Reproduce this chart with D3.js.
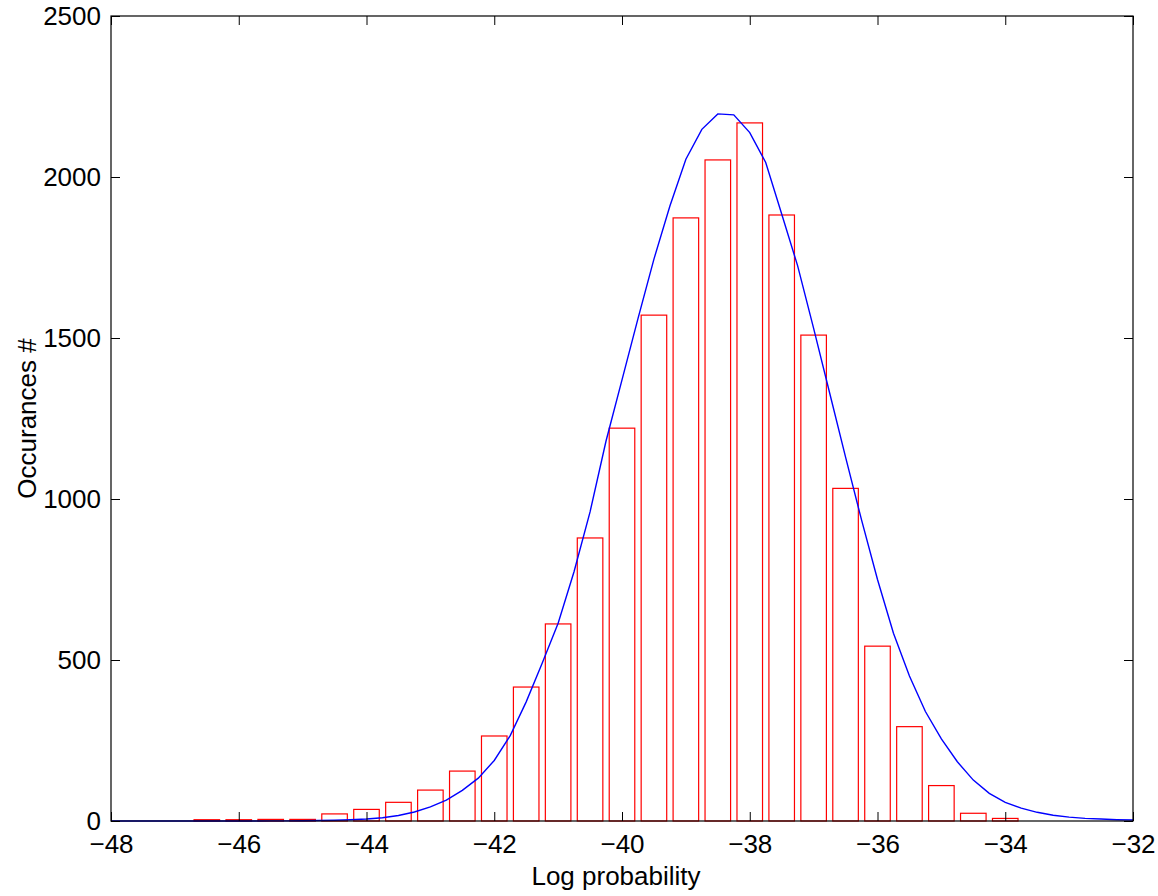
<!DOCTYPE html>
<html lang="en">
    <head>
        <meta charset="UTF-8">
        <title>Log probability histogram</title>
        <script src="https://d3js.org/d3.v7.min.js"></script>
    </head>
    <style>
        body { margin: 0; background: white; }
        text { font-family: "Liberation Sans", Arial, sans-serif; font-size: 26px; fill: black; }
        .bar { fill: white; stroke: #ff0000; stroke-width: 1.2px; }
        .fit { fill: none; stroke: #0000ff; stroke-width: 1.4px; }
        .frame { fill: none; stroke: black; stroke-width: 1.2px; }
    </style>
    <body>
        <svg id="chart" width="1158" height="896"></svg>
        <script>
            // histogram bins (centre of bin) and counts
            const binCentres = [-46.5, -46, -45.5, -45, -44.5, -44, -43.5, -43, -42.5, -42,
                -41.5, -41, -40.5, -40, -39.5, -39, -38.5, -38, -37.5, -37,
                -36.5, -36, -35.5, -35, -34.5, -34];
            const counts = [4, 4, 5, 5, 22, 36, 58, 96, 155, 264,
                416, 612, 879, 1220, 1571, 1873, 2053, 2168, 1882, 1509,
                1033, 543, 293, 110, 24, 8];

            // fitted curve, sampled every 0.25
            const curveX = d3.range(65).map(i => -48 + i * 0.25);
            const curveY = [0, 0, 0, 0, 0, 0, 0, 0, 0.1, 0.2,
                0.3, 0.5, 1, 1.5, 2.5, 4, 6, 10, 17, 28,
                44, 65, 95, 133, 188, 265, 370, 490, 614, 775,
                960, 1180, 1370, 1560, 1745, 1910, 2055, 2148, 2196, 2193,
                2138, 2045, 1885, 1724, 1530, 1330, 1130, 935, 750, 583,
                450, 340, 255, 184, 127, 86, 58, 40, 27, 18,
                12, 8, 6, 4, 3];

            const xTicks = [-48, -46, -44, -42, -40, -38, -36, -34, -32];
            const yTicks = [0, 500, 1000, 1500, 2000, 2500];
            const binWidth = 0.4;

            const svg = d3.select("#chart");
            const margin = {left: 111, right: 25, top: 16, bottom: 75};
            const width = +svg.attr("width");
            const height = +svg.attr("height");

            const x = d3.scaleLinear().domain([-48, -32]).range([margin.left, width - margin.right]);
            const y = d3.scaleLinear().domain([0, 2500]).range([height - margin.bottom, margin.top]);

            const fmt = d => String(d).replace("-", "\u2212");

            // bars
            svg.selectAll("rect.bar").data(binCentres)
                .join("rect")
                .attr("class", "bar")
                .attr("x", d => x(d - binWidth / 2))
                .attr("width", x(binWidth) - x(0))
                .attr("y", (d, i) => y(counts[i]))
                .attr("height", (d, i) => y(0) - y(counts[i]));

            // fitted curve
            const line = d3.line().x(d => x(d[0])).y(d => y(d[1]));
            svg.append("path")
                .datum(curveX.map((v, i) => [v, curveY[i]]))
                .attr("class", "fit")
                .attr("d", line);

            // frame
            svg.append("rect")
                .attr("class", "frame")
                .attr("x", x(-48)).attr("y", y(2500))
                .attr("width", x(-32) - x(-48))
                .attr("height", y(0) - y(2500));

            const tickLen = 9;
            // x ticks (bottom and top, pointing in)
            const gx = svg.append("g").attr("transform", `translate(0,${y(0)})`)
                .call(d3.axisBottom(x).tickValues(xTicks).tickSizeInner(-tickLen).tickSizeOuter(0)
                    .tickPadding(14).tickFormat(fmt));
            gx.select(".domain").remove();
            gx.selectAll("text").style("font-size", "26px").style("font-family", "Liberation Sans, Arial, sans-serif");

            const gxt = svg.append("g").attr("transform", `translate(0,${y(2500)})`)
                .call(d3.axisTop(x).tickValues(xTicks).tickSizeInner(-tickLen).tickSizeOuter(0).tickFormat(""));
            gxt.select(".domain").remove();

            // y ticks (left and right, pointing in)
            const gy = svg.append("g").attr("transform", `translate(${x(-48)},0)`)
                .call(d3.axisLeft(y).tickValues(yTicks).tickSizeInner(-tickLen).tickSizeOuter(0)
                    .tickPadding(10).tickFormat(d => String(d)));
            gy.select(".domain").remove();
            gy.selectAll("text").style("font-size", "26px").style("font-family", "Liberation Sans, Arial, sans-serif");

            const gyr = svg.append("g").attr("transform", `translate(${x(-32)},0)`)
                .call(d3.axisRight(y).tickValues(yTicks).tickSizeInner(-tickLen).tickSizeOuter(0).tickFormat(""));
            gyr.select(".domain").remove();

            // axis labels
            svg.append("text")
                .attr("x", (x(-48) + x(-32)) / 2 - 6)
                .attr("y", 885)
                .attr("text-anchor", "middle")
                .text("Log probability");

            svg.append("text")
                .attr("transform", `translate(36,${(y(0) + y(2500)) / 2}) rotate(-90)`)
                .attr("text-anchor", "middle")
                .text("Occurances #");
        </script>
    </body>
</html>
